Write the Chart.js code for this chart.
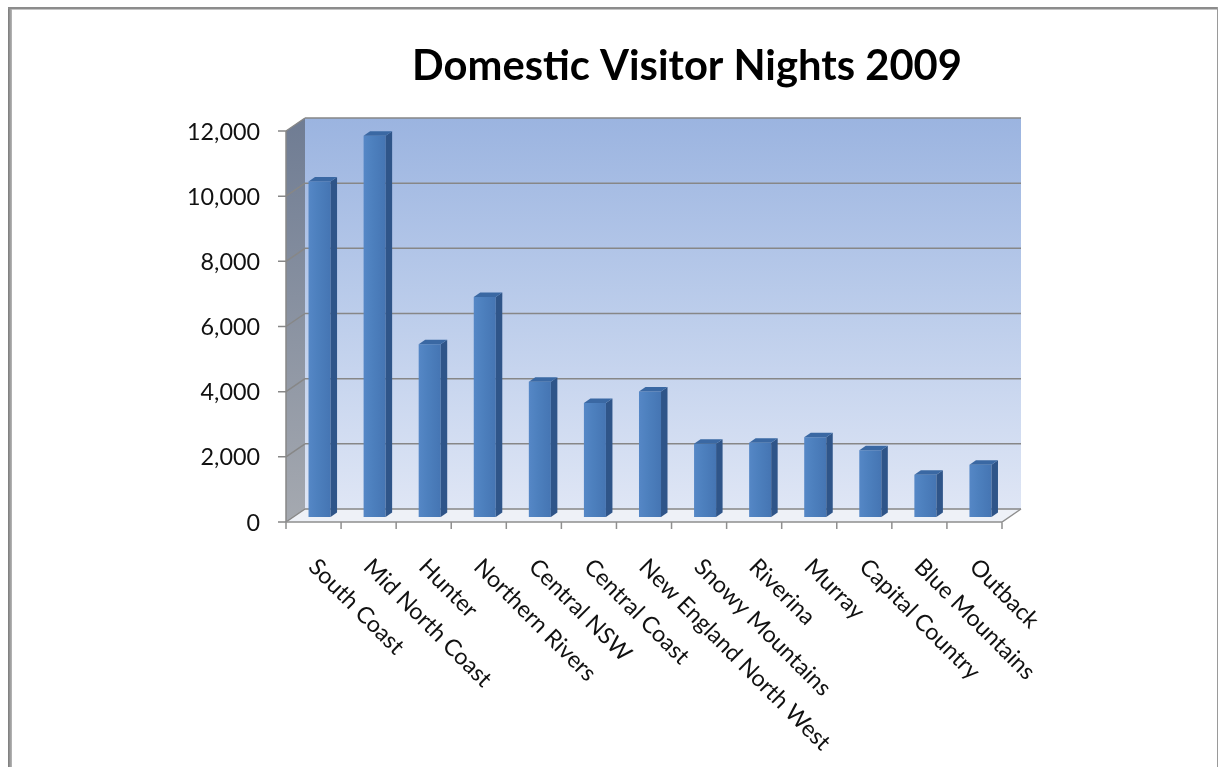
<!DOCTYPE html>
<html>
<head>
<meta charset="utf-8">
<script src="https://cdn.jsdelivr.net/npm/chart.js@4.4.1/dist/chart.umd.min.js"></script>
<style>
  html, body { margin: 0; padding: 0; background: #ffffff; }
  canvas { display: block; }
</style>
</head>
<body>
<canvas id="chart" width="1220" height="767"></canvas>
<script>
// Chart content
const chartTitle = 'Domestic Visitor Nights 2009';
const regions = [
  'South Coast', 'Mid North Coast', 'Hunter', 'Northern Rivers', 'Central NSW',
  'Central Coast', 'New England North West', 'Snowy Mountains', 'Riverina',
  'Murray', 'Capital Country', 'Blue Mountains', 'Outback'
];
const visitorNights = [10300, 11700, 5300, 6750, 4150, 3500, 3850, 2250, 2280, 2450, 2050, 1300, 1600];
const yTickValues = [0, 2000, 4000, 6000, 8000, 10000, 12000];
const yTickLabels = ['0', '2,000', '4,000', '6,000', '8,000', '10,000', '12,000'];

// Perspective offsets of the pseudo-3D box, relative to the plane the columns stand in
const FRONT = { dx: -6, dy: 5 };      // front edge of floor / value axis
const BACK = { dx: 13, dy: -8 };      // back wall
const COLUMN_DEPTH = { dx: 6.5, dy: -4.5 };

const FONT_FAMILY = "Lato, 'Open Sans', 'Noto Sans', sans-serif";

function fitFontSize(text, weight, targetWidth) {
  const c = document.createElement('canvas').getContext('2d');
  c.font = `${weight} 100px ${FONT_FAMILY}`;
  return 100 * targetWidth / c.measureText(text).width;
}
const titleSize = fitFontSize(chartTitle, 'bold', 550);
const tickSize = fitFontSize('12,000', 'normal', 73);
const catSize = fitFontSize('Mid North Coast', 'normal', 170);

const box3d = {
  id: 'box3d',
  beforeDraw(chart) {
    const { ctx, width, height } = chart;
    ctx.save();
    ctx.fillStyle = '#ffffff';
    ctx.fillRect(0, 0, width, height);
    // frame
    const lg = ctx.createLinearGradient(8, 0, 12, 0);
    lg.addColorStop(0, '#7a7a7a');
    lg.addColorStop(1, '#b8b8b8');
    ctx.fillStyle = lg;
    ctx.fillRect(8, 7, 4, height - 7);
    ctx.fillStyle = '#8c8c8c';
    ctx.fillRect(8, 7, 1210, 2);
    ctx.fillStyle = '#c4c4c4';
    ctx.fillRect(12, 9, 1205, 1);
    ctx.fillStyle = '#9a9a9a';
    ctx.fillRect(1217, 7, 1, height - 7);

    // title
    ctx.fillStyle = '#000000';
    ctx.font = `bold ${titleSize}px ${FONT_FAMILY}`;
    ctx.textAlign = 'center';
    ctx.textBaseline = 'middle';
    ctx.fillText(chartTitle, 687, 67);
    ctx.restore();
  },
  beforeDatasetsDraw(chart) {
    const { ctx, chartArea: { left, right, top, bottom }, scales: { x, y } } = chart;
    const fl = left + FRONT.dx, fr = right + FRONT.dx, fb = bottom + FRONT.dy, ft = top + FRONT.dy;
    const bl = left + BACK.dx, br = right + BACK.dx, bb = bottom + BACK.dy, bt = top + BACK.dy;
    ctx.save();

    // back wall
    const wg = ctx.createLinearGradient(0, bt, 0, bb);
    wg.addColorStop(0, '#9bb4e0');
    wg.addColorStop(0.5, '#bccdeb');
    wg.addColorStop(1, '#dfe6f5');
    ctx.fillStyle = wg;
    ctx.fillRect(bl, bt, br - bl, bb - bt);

    // side wall
    const sg = ctx.createLinearGradient(0, bt, 0, fb);
    sg.addColorStop(0, '#6f7c93');
    sg.addColorStop(1, '#a5a9b0');
    ctx.fillStyle = sg;
    ctx.beginPath();
    ctx.moveTo(fl, ft); ctx.lineTo(bl, bt); ctx.lineTo(bl, bb); ctx.lineTo(fl, fb);
    ctx.closePath();
    ctx.fill();

    // floor
    ctx.fillStyle = '#eef1f7';
    ctx.beginPath();
    ctx.moveTo(fl, fb); ctx.lineTo(fr, fb); ctx.lineTo(br, bb); ctx.lineTo(bl, bb);
    ctx.closePath();
    ctx.fill();

    // gridlines on back and side walls, ticks on value axis
    ctx.strokeStyle = '#878787';
    ctx.lineWidth = 1.5;
    yTickValues.forEach(v => {
      const py = y.getPixelForValue(v);
      ctx.beginPath();
      ctx.moveTo(bl, py + BACK.dy); ctx.lineTo(br, py + BACK.dy);
      ctx.moveTo(fl, py + FRONT.dy); ctx.lineTo(bl, py + BACK.dy);
      ctx.moveTo(fl - 8, py + FRONT.dy); ctx.lineTo(fl, py + FRONT.dy);
      ctx.stroke();
    });
    // side wall front edge
    ctx.beginPath();
    ctx.moveTo(fl, ft); ctx.lineTo(fl, fb);
    ctx.stroke();

    // floor edges and category ticks
    ctx.strokeStyle = '#8f8f8f';
    ctx.beginPath();
    ctx.moveTo(fl, fb); ctx.lineTo(fr, fb); ctx.lineTo(br, bb);
    for (let i = 0; i <= regions.length; i++) {
      const px = x.getPixelForValue(i - 0.5) + FRONT.dx;
      ctx.moveTo(px, fb); ctx.lineTo(px, fb + 7);
    }
    ctx.stroke();

    // value labels
    ctx.fillStyle = '#111111';
    ctx.font = `${tickSize}px ${FONT_FAMILY}`;
    ctx.textAlign = 'right';
    ctx.textBaseline = 'middle';
    yTickValues.forEach((v, i) => {
      ctx.fillText(yTickLabels[i], fl - 26, y.getPixelForValue(v) + FRONT.dy + 1);
    });

    // category labels, slanted down to the right
    ctx.font = `${catSize}px ${FONT_FAMILY}`;
    ctx.textAlign = 'left';
    regions.forEach((name, i) => {
      const px = x.getPixelForValue(i) + FRONT.dx;
      ctx.save();
      ctx.translate(px - 1, fb + 41);
      ctx.rotate(Math.PI / 4);
      ctx.fillText(name, 0, 0);
      ctx.restore();
    });
    ctx.restore();
  },
  afterDatasetsDraw(chart) {
    const { ctx } = chart;
    const meta = chart.getDatasetMeta(0);
    ctx.save();
    meta.data.forEach(bar => {
      const { x, y, width, base } = bar.getProps(['x', 'y', 'width', 'base'], true);
      const l = x - width / 2, r = x + width / 2;
      const { dx, dy } = COLUMN_DEPTH;
      // side face
      ctx.fillStyle = '#2f5589';
      ctx.beginPath();
      ctx.moveTo(r, y); ctx.lineTo(r + dx, y + dy); ctx.lineTo(r + dx, base + dy); ctx.lineTo(r, base);
      ctx.closePath();
      ctx.fill();
      // top face
      ctx.fillStyle = '#3a68a3';
      ctx.beginPath();
      ctx.moveTo(l, y); ctx.lineTo(l + dx, y + dy); ctx.lineTo(r + dx, y + dy); ctx.lineTo(r, y);
      ctx.closePath();
      ctx.fill();
    });
    ctx.restore();
  }
};

new Chart(document.getElementById('chart'), {
  type: 'bar',
  data: {
    labels: regions,
    datasets: [{
      data: visitorNights,
      backgroundColor(context) {
        const chart = context.chart;
        if (!chart.chartArea || !chart.scales.x) return '#4a7ebb';
        const cx = chart.scales.x.getPixelForValue(context.dataIndex);
        const g = chart.ctx.createLinearGradient(cx - 11, 0, cx + 11, 0);
        g.addColorStop(0, '#5587c6');
        g.addColorStop(0.4, '#4d80be');
        g.addColorStop(1, '#4575b3');
        return g;
      },
      borderWidth: 0,
      categoryPercentage: 1,
      barPercentage: 0.4
    }]
  },
  options: {
    responsive: false,
    animation: false,
    events: [],
    layout: { padding: { left: 292, right: 212, top: 126, bottom: 250 } },
    plugins: {
      legend: { display: false },
      tooltip: { enabled: false },
      title: { display: false }
    },
    scales: {
      x: { display: false, offset: true },
      y: { display: false, min: 0, max: 12000 }
    }
  },
  plugins: [box3d]
});
</script>
</body>
</html>
